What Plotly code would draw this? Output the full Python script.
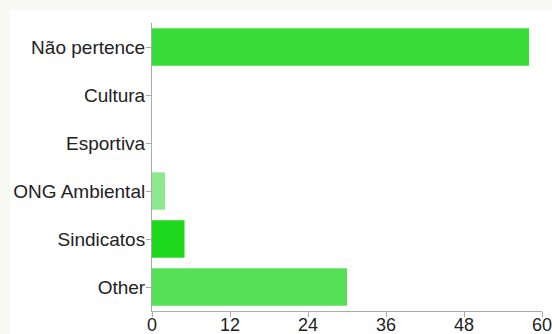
import plotly.graph_objects as go

categories = ["Não pertence", "Cultura", "Esportiva", "ONG Ambiental", "Sindicatos", "Other"]
counts = [58, 0, 0, 2, 5, 30]
bar_colors = ["#3adc3a", "#3adc3a", "#3adc3a", "#8de78d", "#1ed81e", "#55e055"]
x_ticks = [0, 12, 24, 36, 48, 60]

fig = go.Figure(
    data=go.Bar(
        y=categories,
        x=counts,
        orientation="h",
        marker_color=bar_colors,
        marker_line_width=0,
        width=0.78,
    )
)

fig.update_layout(
    width=552,
    height=334,
    margin=dict(l=152, r=10, t=23, b=23),
    paper_bgcolor="#f9f9f3",
    plot_bgcolor="white",
    showlegend=False,
    font=dict(family="Liberation Sans, Arial, sans-serif", size=19, color="#222222"),
    shapes=[
        dict(
            type="rect",
            xref="paper",
            yref="paper",
            x0=-0.364,
            x1=1.1,
            y0=-0.2,
            y1=1.045,
            fillcolor="white",
            line_width=0,
            layer="below",
        )
    ],
    xaxis=dict(
        range=[0, 60],
        tickvals=x_ticks,
        ticks="outside",
        ticklen=5,
        tickcolor="#aaaaaa",
        tickfont_size=18,
        ticklabelstandoff=-8,
        ticklabeloverflow="allow",
        showgrid=False,
        zeroline=False,
        showline=True,
        linecolor="#aaaaaa",
        linewidth=1,
        automargin=False,
    ),
    yaxis=dict(
        categoryorder="array",
        categoryarray=categories,
        range=[5.5, -0.5],
        ticks="outside",
        ticklen=5,
        tickcolor="#aaaaaa",
        ticklabelstandoff=-3,
        showgrid=False,
        zeroline=False,
        showline=True,
        linecolor="#aaaaaa",
        linewidth=1,
        automargin=False,
    ),
)

fig.write_html(
    "out.html",
    config={"displayModeBar": False},
    post_script="document.body.style.margin='0';",
)
